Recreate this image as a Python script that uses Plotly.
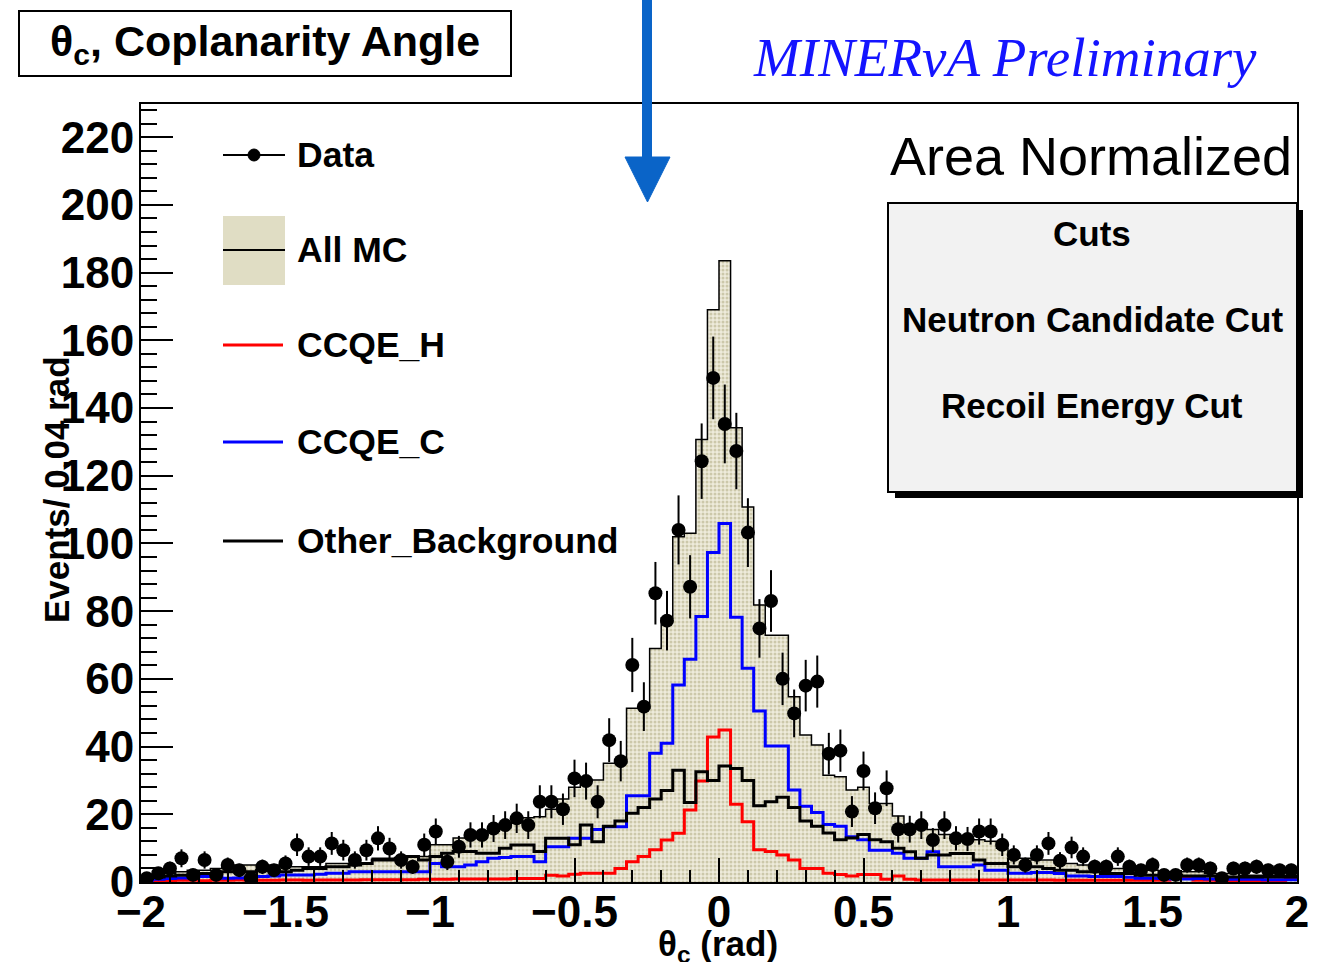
import numpy as np
import plotly.graph_objects as go

# ---------------- data ----------------
X_MIN, X_MAX, BIN_W = -2.0, 2.0, 0.04

data_counts = [1.1, 2.6, 4.0, 7.0, 2.1, 6.5, 2.1, 5.0, 3.5, 1.1,
               4.5, 3.5, 5.5, 11.0, 7.5, 7.5, 11.4, 9.4, 6.5, 9.4,
               12.9, 9.9, 6.5, 4.5, 11.0, 14.9, 6.0, 10.4, 13.9, 13.9,
               15.8, 16.8, 18.8, 16.8, 23.7, 23.7, 21.5, 30.6, 29.8, 23.7,
               41.9, 35.7, 64.1, 51.8, 85.3, 77.2, 104.0, 87.2, 124.3, 148.9,
               135.3, 127.3, 103.2, 74.9, 83.0, 60.0, 49.8, 58.0, 59.2, 37.9,
               38.8, 20.8, 32.8, 21.8, 27.7, 15.6, 15.6, 16.8, 12.4, 16.8,
               12.9, 12.7, 14.9, 14.9, 11.0, 8.0, 5.0, 8.0, 11.4, 6.3,
               10.2, 7.5, 4.5, 4.5, 7.5, 4.5, 3.5, 5.0, 2.1, 2.1,
               5.0, 5.0, 4.0, 1.1, 4.0, 4.0, 4.5, 3.5, 3.5, 3.5]

all_mc = [1.5, 2.0, 2.5, 3.0, 3.5, 3.5, 4.0, 4.5, 5.0, 5.0,
          5.0, 5.0, 4.5, 4.5, 4.5, 4.5, 5.5, 5.5, 5.5, 5.5,
          7.0, 7.0, 7.0, 7.5, 7.5, 11.0, 11.0, 13.0, 13.5, 14.0,
          15.0, 16.0, 17.5, 19.0, 19.3, 21.5, 24.5, 28.0, 30.1, 30.1,
          35.1, 35.1, 51.3, 51.3, 69.0, 78.0, 102.0, 103.0, 130.7, 169.0,
          183.5, 134.2, 110.8, 81.8, 72.9, 72.9, 54.7, 43.4, 40.5, 31.5,
          31.1, 27.2, 28.0, 23.2, 23.2, 19.5, 17.0, 16.0, 15.5, 14.0,
          13.5, 13.0, 12.5, 12.0, 10.0, 8.0, 7.0, 6.5, 6.5, 5.5,
          5.5, 5.0, 4.5, 4.5, 4.0, 4.0, 3.5, 3.5, 3.0, 3.0,
          3.0, 3.0, 2.5, 2.5, 2.5, 2.0, 2.0, 2.0, 2.0, 2.0]

ccqe_h = [0.3, 0.3, 0.4, 0.5, 0.5, 0.4, 0.5, 0.5, 0.6, 0.5,
          0.5, 0.5, 0.6, 0.6, 0.5, 0.6, 0.6, 0.6, 0.6, 0.7,
          0.7, 0.7, 0.7, 0.7, 0.8, 0.8, 0.8, 0.9, 0.9, 0.9,
          0.9, 0.9, 1.0, 1.0, 1.0, 2.0, 1.8, 2.3, 2.6, 2.6,
          2.6, 4.0, 6.0, 7.5, 9.5, 12.4, 14.4, 21.3, 29.8, 42.8,
          44.9, 23.0, 17.8, 9.5, 9.0, 8.0, 6.5, 4.0, 4.0, 2.6,
          2.2, 1.8, 2.2, 2.2, 0.8, 1.8, 0.8, 0.6, 0.6, 0.6,
          0.6, 0.6, 0.6, 0.6, 0.6, 0.6, 0.6, 0.6, 0.6, 0.5,
          0.5, 0.5, 0.5, 0.5, 0.5, 0.5, 0.5, 0.5, 0.5, 1.1,
          1.1, 0.5, 0.5, 0.4, 0.4, 0.4, 0.4, 0.4, 0.4, 1.0]

ccqe_c = [0.5, 0.8, 1.0, 1.2, 1.5, 1.6, 1.6, 1.1, 1.2, 1.4,
          1.6, 1.8, 2.1, 2.1, 2.1, 2.3, 2.6, 2.6, 3.0, 3.0,
          3.0, 3.0, 3.0, 3.0, 3.0, 5.5, 4.5, 4.5, 5.0, 6.0,
          7.0, 7.2, 7.5, 7.5, 6.0, 10.4, 10.4, 12.9, 12.9, 15.5,
          16.3, 16.3, 25.5, 25.5, 38.0, 41.0, 58.2, 65.8, 78.4, 97.3,
          105.9, 78.2, 63.1, 50.5, 40.2, 40.2, 27.2, 22.4, 20.5, 17.0,
          16.5, 13.4, 12.5, 9.4, 9.4, 8.5, 7.0, 7.0, 8.9, 4.5,
          4.5, 4.5, 5.0, 3.5, 3.5, 2.6, 2.6, 2.8, 2.8, 2.5,
          1.8, 1.8, 1.6, 1.6, 1.6, 1.4, 1.1, 1.1, 1.0, 0.9,
          0.9, 1.0, 0.9, 0.8, 0.8, 0.8, 0.8, 0.7, 0.7, 0.7]

other_bg = [1.0, 1.5, 1.8, 2.0, 2.0, 2.5, 2.5, 3.0, 3.0, 3.0,
            3.5, 3.5, 3.0, 3.5, 4.0, 4.0, 4.5, 4.5, 5.0, 5.5,
            6.5, 6.5, 7.0, 7.5, 6.5, 7.5, 8.5, 9.0, 9.0, 8.5,
            8.5, 10.0, 10.9, 10.9, 9.0, 12.9, 12.9, 11.0, 16.8, 11.9,
            16.5, 18.0, 20.3, 22.0, 24.5, 27.0, 33.0, 23.5, 32.6, 30.0,
            34.3, 33.5, 30.0, 22.5, 23.7, 25.0, 22.0, 18.0, 16.5, 14.5,
            12.5, 13.0, 14.0, 12.5, 11.9, 10.0, 8.9, 7.0, 8.0, 8.0,
            8.4, 8.4, 6.5, 5.5, 5.5, 4.5, 4.5, 4.5, 4.0, 3.5,
            3.5, 3.0, 3.0, 2.5, 2.5, 2.5, 2.0, 2.0, 2.0, 2.0,
            1.8, 1.8, 1.8, 1.5, 1.5, 1.5, 1.5, 1.5, 1.5, 1.5]

legend_labels = ["Data", "All MC", "CCQE_H", "CCQE_C", "Other_Background"]
cut_lines = ["Cuts", "Neutron Candidate Cut", "Recoil Energy Cut"]

# ---------------- derived bin geometry ----------------
nb = len(data_counts)
edges = X_MIN + BIN_W * np.arange(nb + 1)
centers = edges[:-1] + BIN_W / 2


def step_y(v):
    return list(v) + [v[-1]]


# ---------------- page geometry helpers ----------------
W, H = 1337, 962
L, R, T, B = 141, 1297, 104, 882


def px(x):
    return (x - L) / (R - L)


def py(y):
    return (B - y) / (B - T)


FONT = "Liberation Sans"

fig = go.Figure()

fig.add_trace(go.Scatter(
    x=edges, y=step_y(all_mc), mode="lines", line_shape="hv",
    line=dict(color="black", width=1.5),
    fill="tozeroy", fillcolor="#e4e1cb",
    fillpattern=dict(shape=".", bgcolor="#eeebdb", fgcolor="#aaa57a",
                     size=4, solidity=0.45),
    showlegend=False, hoverinfo="skip"))

fig.add_trace(go.Scatter(x=edges, y=step_y(ccqe_h), mode="lines", line_shape="hv",
                         line=dict(color="#ff0000", width=3), showlegend=False))
fig.add_trace(go.Scatter(x=edges, y=step_y(ccqe_c), mode="lines", line_shape="hv",
                         line=dict(color="#0000ff", width=3), showlegend=False))
fig.add_trace(go.Scatter(x=edges, y=step_y(other_bg), mode="lines", line_shape="hv",
                         line=dict(color="black", width=3), showlegend=False))

fig.add_trace(go.Scatter(
    x=centers, y=data_counts, mode="markers",
    marker=dict(size=14, color="black"),
    error_y=dict(type="data", array=np.sqrt(np.array(data_counts)),
                 width=0, thickness=2, color="black"),
    showlegend=False))

shapes = []
annotations = []

# title box
shapes.append(dict(type="rect", xref="paper", yref="paper",
                   x0=px(19), x1=px(511), y0=py(76), y1=py(11),
                   line=dict(color="black", width=2), fillcolor="white", layer="above"))
annotations.append(dict(xref="paper", yref="paper", x=px(265), y=py(44),
                        text="θ<sub>c</sub>, Coplanarity Angle", showarrow=False,
                        font=dict(family=FONT, size=43, color="black", weight="bold"),
                        xanchor="center", yanchor="middle"))

# MINERvA Preliminary
annotations.append(dict(xref="paper", yref="paper", x=px(1005), y=py(58),
                        text="<i>MINERνA Preliminary</i>", showarrow=False,
                        font=dict(family="Liberation Serif", size=55, color="#1414ff"),
                        xanchor="center", yanchor="middle"))

# Area Normalized
annotations.append(dict(xref="paper", yref="paper", x=px(1294), y=py(156),
                        text="Area Normalized", showarrow=False,
                        font=dict(family=FONT, size=54, color="black"),
                        xanchor="right", yanchor="middle"))

# cuts box with shadow
shapes.append(dict(type="rect", xref="paper", yref="paper",
                   x0=px(895), x1=px(1303), y0=py(498), y1=py(210),
                   line=dict(width=0), fillcolor="black", layer="above"))
shapes.append(dict(type="rect", xref="paper", yref="paper",
                   x0=px(888), x1=px(1297), y0=py(492), y1=py(203),
                   line=dict(color="black", width=2), fillcolor="#f2f2f2", layer="above"))
for txt, yy in zip(cut_lines, [233, 319, 405]):
    annotations.append(dict(xref="paper", yref="paper", x=px(1092), y=py(yy),
                            text=txt, showarrow=False,
                            font=dict(family=FONT, size=35, color="black", weight="bold"),
                            xanchor="center", yanchor="middle"))

# legend (drawn by hand)
leg_y = [155, 250, 345, 442, 541]
shapes.append(dict(type="line", xref="paper", yref="paper",
                   x0=px(223), x1=px(285), y0=py(leg_y[0]), y1=py(leg_y[0]),
                   line=dict(color="black", width=2), layer="above"))
shapes.append(dict(type="circle", xref="paper", yref="paper",
                   x0=px(248), x1=px(260), y0=py(leg_y[0] + 6), y1=py(leg_y[0] - 6),
                   line=dict(color="black", width=1), fillcolor="black", layer="above"))
shapes.append(dict(type="rect", xref="paper", yref="paper",
                   x0=px(223), x1=px(285), y0=py(285), y1=py(216),
                   line=dict(width=0), fillcolor="#e0ddc4", layer="above"))
shapes.append(dict(type="line", xref="paper", yref="paper",
                   x0=px(223), x1=px(285), y0=py(leg_y[1]), y1=py(leg_y[1]),
                   line=dict(color="black", width=2), layer="above"))
for yy, col in zip(leg_y[2:], ["#ff0000", "#0000ff", "black"]):
    shapes.append(dict(type="line", xref="paper", yref="paper",
                       x0=px(223), x1=px(283), y0=py(yy), y1=py(yy),
                       line=dict(color=col, width=3), layer="above"))
for txt, yy in zip(legend_labels, leg_y):
    annotations.append(dict(xref="paper", yref="paper", x=px(295), y=py(yy),
                            text=txt, showarrow=False,
                            font=dict(family=FONT, size=35.5, color="black", weight="bold"),
                            xanchor="left", yanchor="middle"))

# blue arrow
ARROW = "#0a64c8"
shapes.append(dict(type="line", xref="paper", yref="paper",
                   x0=px(647), x1=px(647), y0=py(0), y1=py(165),
                   line=dict(color=ARROW, width=10), layer="above"))
shapes.append(dict(type="path", xref="paper", yref="paper",
                   path=f"M {px(625)},{py(157)} L {px(670)},{py(157)} L {px(647.5)},{py(202)} Z",
                   line=dict(color=ARROW, width=1), fillcolor=ARROW, layer="above"))

# axis titles
annotations.append(dict(xref="paper", yref="paper", x=px(718), y=py(922),
                        text="θ<sub>c</sub> (rad)", showarrow=False,
                        font=dict(family=FONT, size=35, color="black", weight="bold"),
                        xanchor="center", yanchor="top"))
annotations.append(dict(xref="paper", yref="paper", x=px(56), y=py(490),
                        text="Events/ 0.04 rad", showarrow=False, textangle=-90,
                        font=dict(family=FONT, size=35, color="black", weight="bold"),
                        xanchor="center", yanchor="middle"))

tickfont = dict(family=FONT, size=44, color="black", weight="bold")
fig.update_layout(
    width=W, height=H, autosize=False,
    margin=dict(l=L, r=W - R, t=T, b=H - B, pad=0),
    paper_bgcolor="white", plot_bgcolor="white",
    showlegend=False,
    shapes=shapes, annotations=annotations,
    xaxis=dict(range=[X_MIN, X_MAX], showgrid=False, zeroline=False,
               showline=True, linecolor="black", linewidth=2, mirror=True,
               ticks="inside", ticklen=24, tickwidth=2, tickcolor="black",
               tick0=0, dtick=0.5, tickfont=tickfont, ticklabelstandoff=-10,
               minor=dict(ticks="inside", ticklen=12, tickwidth=2,
                          tickcolor="black", dtick=0.1, showgrid=False)),
    yaxis=dict(range=[0, 229.8], showgrid=False, zeroline=False,
               showline=True, linecolor="black", linewidth=2, mirror=True,
               ticks="inside", ticklen=32, tickwidth=2, tickcolor="black",
               tick0=0, dtick=20, tickfont=tickfont, ticklabelstandoff=-4,
               minor=dict(ticks="inside", ticklen=16, tickwidth=2,
                          tickcolor="black", dtick=4, showgrid=False)),
)

fig.write_html("out.html")
